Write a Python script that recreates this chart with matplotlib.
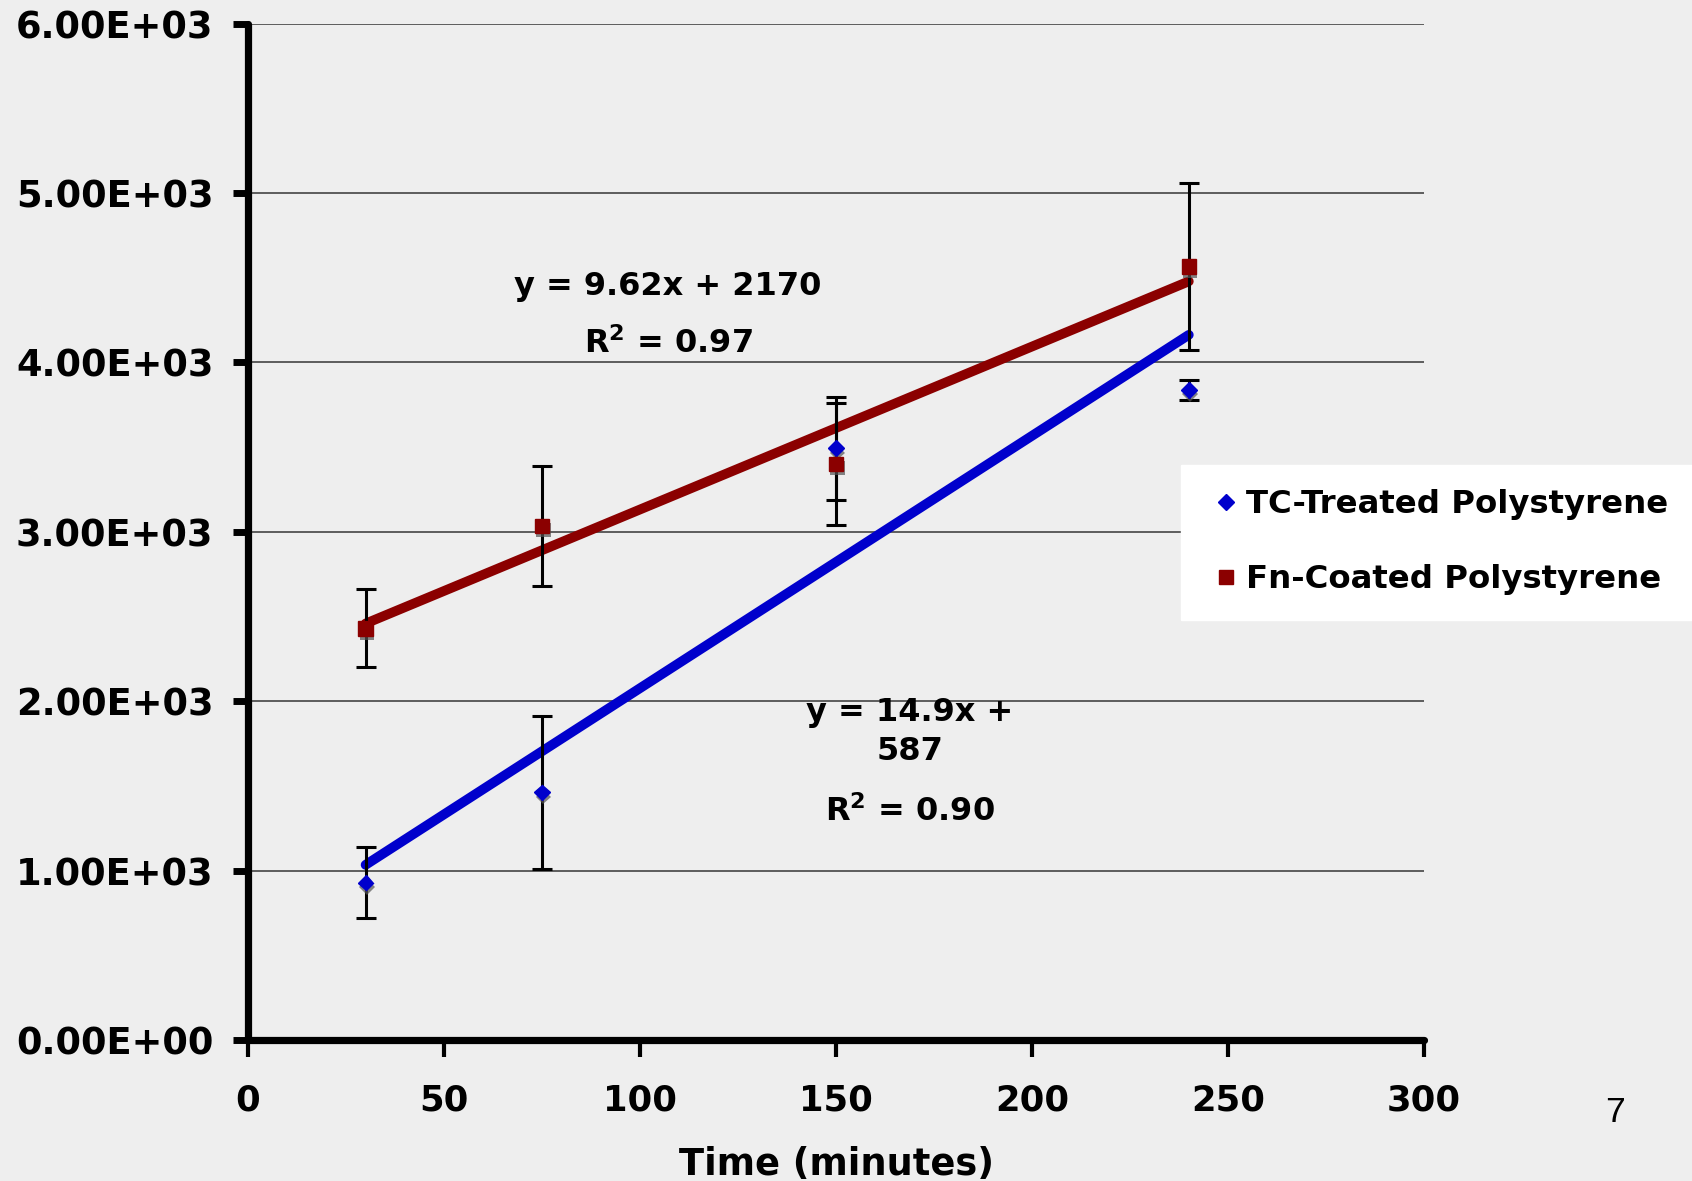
import matplotlib
matplotlib.use("Agg")
import matplotlib.pyplot as plt
import matplotlib.patheffects as pe
from matplotlib.lines import Line2D
import numpy as np

# ---------------- data ----------------
time_min = [30, 75, 150, 240]
tc_values = [929, 1462, 3493, 3837]
tc_err = [208, 450, 305, 60]
fn_values = [2430, 3035, 3401, 4566]
fn_err = [230, 353, 360, 493]

tc_slope, tc_intercept = 14.9, 587
fn_slope, fn_intercept = 9.62, 2170

series_names = ["TC-Treated Polystyrene", "Fn-Coated Polystyrene"]
xticks = [0, 50, 100, 150, 200, 250, 300]
yticks = [0, 1000, 2000, 3000, 4000, 5000, 6000]
ytick_labels = ["0.00E+00", "1.00E+03", "2.00E+03", "3.00E+03",
                "4.00E+03", "5.00E+03", "6.00E+03"]
xlabel = "Time (minutes)"
fn_eq = ["y = 9.62x + 2170", "R$^2$ = 0.97"]
tc_eq = ["y = 14.9x +", "587", "R$^2$ = 0.90"]
page_number = "7"

# ---------------- style ----------------
BG = "#EEEEEE"
BLUE = "#0000CC"
RED = "#8B0000"
plt.rcParams["font.family"] = ["DejaVu Sans"]
plt.rcParams["font.weight"] = "bold"

W, H = 1692, 1181
fig = plt.figure(figsize=(W / 100, H / 100), dpi=100, facecolor=BG)
ax = fig.add_axes([248 / W, 1 - 1040 / H, (1424 - 248) / W, (1040 - 23.7) / H])
ax.set_facecolor(BG)

ax.set_xlim(0, 300)
ax.set_ylim(0, 6000)

ax.set_yticks(yticks)
ax.set_yticklabels(ytick_labels)
ax.set_xticks(xticks)
ax.set_xticklabels([str(t) for t in xticks])
ax.yaxis.grid(True, color="#444444", linewidth=1.2, zorder=0)
ax.set_axisbelow(True)

for s in ["top", "right"]:
    ax.spines[s].set_visible(False)
for s in ["left", "bottom"]:
    ax.spines[s].set_linewidth(5.2)
    ax.spines[s].set_color("black")
    ax.spines[s].set_capstyle("round")

ax.tick_params(axis="y", direction="out", length=11, width=5, pad=14,
               labelsize=26.5, colors="black")
ax.tick_params(axis="x", direction="out", length=12, width=3, pad=19,
               labelsize=25.5, colors="black")
for t in ax.get_yticklabels() + ax.get_xticklabels():
    t.set_fontweight("bold")

# trend lines
xfit = np.array([min(time_min), max(time_min)])
ax.plot(xfit, fn_slope * xfit + fn_intercept, color=RED, lw=7,
        solid_capstyle="round", zorder=2)
ax.plot(xfit, tc_slope * xfit + tc_intercept, color=BLUE, lw=7,
        solid_capstyle="round", zorder=2)

# error bars
ax.errorbar(time_min, tc_values, yerr=tc_err, fmt="none", ecolor="black",
            elinewidth=2.2, capsize=7, capthick=2.2, zorder=3)
ax.errorbar(time_min, fn_values, yerr=fn_err, fmt="none", ecolor="black",
            elinewidth=2.2, capsize=7, capthick=2.2, zorder=3)

shadow = [pe.withSimplePatchShadow(offset=(1, -3), shadow_rgbFace="#555555", alpha=0.7)]
ax.plot(time_min, tc_values, linestyle="none", marker="D", ms=8,
        color=BLUE, mec=BLUE, zorder=4, path_effects=shadow)
ax.plot(time_min, fn_values, linestyle="none", marker="s", ms=10.5,
        color=RED, mec=RED, zorder=4, path_effects=shadow)

# equations
def place(px, py, txt):
    fig.text(px / W, 1 - py / H, txt, ha="center", va="center",
             fontsize=23, fontweight="bold", color="black")

place(668, 286, fn_eq[0])
place(668, 344, fn_eq[1])
place(910, 712, tc_eq[0])
place(910, 751, tc_eq[1])
place(910, 812, tc_eq[2])

# x label
ax.set_xlabel(xlabel, fontsize=26.5, fontweight="bold")
ax.xaxis.set_label_coords(0.5, -0.104)

# legend
handles = [
    Line2D([], [], linestyle="none", marker="D", ms=7.8, color=BLUE),
    Line2D([], [], linestyle="none", marker="s", ms=10, color=RED),
]
leg = fig.legend(handles, series_names, loc="upper left",
                 bbox_to_anchor=(1181 / W, 1 - 465 / H), borderaxespad=0,
                 prop={"size": 23.3, "weight": "bold"}, frameon=True,
                 fancybox=False, framealpha=1, facecolor="white",
                 edgecolor="white", handlelength=1.26, handletextpad=0.0,
                 borderpad=0.75, labelspacing=1.36, numpoints=1)

# page number
fig.text(1615 / W, 1 - 1113 / H, page_number, ha="center", va="center",
         fontsize=25.5, family="Liberation Sans", fontweight="normal")

fig.savefig("out.png", dpi=100, facecolor=BG)
